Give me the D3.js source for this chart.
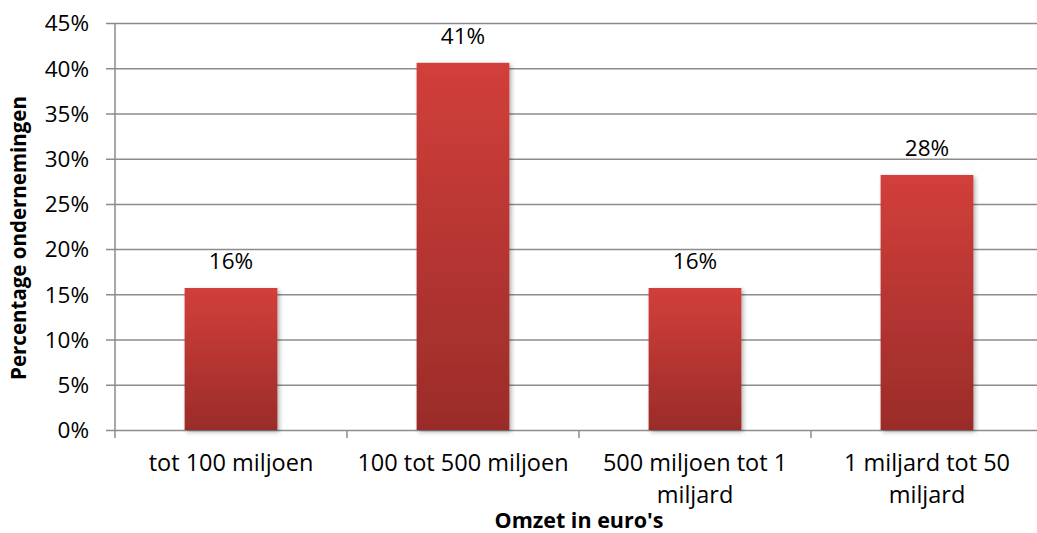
<!DOCTYPE html>
<html>
<head>
<meta charset="utf-8">
<script src="https://cdn.jsdelivr.net/npm/d3@7"></script>
<style>
  body { margin: 0; background: #fff; }
  text { font-family: "Open Sans", sans-serif; fill: #000; }
</style>
</head>
<body>
<div id="chart"></div>
<script>
const categories = ["tot 100 miljoen", "100 tot 500 miljoen", "500 miljoen tot 1 miljard", "1 miljard tot 50 miljard"];
const categoryLines = [["tot 100 miljoen"], ["100 tot 500 miljoen"], ["500 miljoen tot 1", "miljard"], ["1 miljard tot 50", "miljard"]];
const percentages = [15.7, 40.6, 15.7, 28.2];
const valueLabels = ["16%", "41%", "16%", "28%"];
const yTicks = [0, 5, 10, 15, 20, 25, 30, 35, 40, 45];

const width = 1037, height = 533;
const margin = { top: 23, right: -6, bottom: 103, left: 115 };
const innerW = width - margin.left - margin.right;
const innerH = height - margin.top - margin.bottom;

const svg = d3.select("#chart").append("svg")
    .attr("width", width)
    .attr("height", height);

const defs = svg.append("defs");
const grad = defs.append("linearGradient")
    .attr("id", "barGrad")
    .attr("x1", 0).attr("y1", 0).attr("x2", 0).attr("y2", 1);
grad.append("stop").attr("offset", "0%").attr("stop-color", "#d23f3b");
grad.append("stop").attr("offset", "100%").attr("stop-color", "#9a2c29");

const shadow = defs.append("filter").attr("id", "shadow")
    .attr("x", "-10%").attr("y", "-10%").attr("width", "130%").attr("height", "130%");
shadow.append("feDropShadow")
    .attr("dx", 2).attr("dy", 2).attr("stdDeviation", 2)
    .attr("flood-color", "#000").attr("flood-opacity", 0.3);

const g = svg.append("g").attr("transform", `translate(${margin.left},${margin.top})`);

const x = d3.scaleBand().domain(categories).range([0, innerW]).paddingInner(0.6).paddingOuter(0.3);
const xOuter = d3.scaleBand().domain(categories).range([0, innerW]);
const y = d3.scaleLinear().domain([0, 45]).range([innerH, 0]);

// gridlines + y axis
const yAxis = g.append("g")
    .call(d3.axisLeft(y).tickValues(yTicks).tickFormat(d => d + "%").tickSize(-innerW - 9).tickSizeOuter(0));
yAxis.select(".domain").remove();
yAxis.selectAll(".tick line")
    .attr("x1", -9)
    .attr("x2", innerW)
    .attr("stroke", "#8c8c8c")
    .attr("stroke-width", 1.5);
yAxis.selectAll(".tick text")
    .attr("x", -26)
    .attr("dy", "0.35em")
    .style("font-size", "22.5px");

g.append("line")
    .attr("x1", 0).attr("x2", 0)
    .attr("y1", 0).attr("y2", innerH)
    .attr("stroke", "#8c8c8c").attr("stroke-width", 1.5);

// x axis ticks at band boundaries
const boundaries = categories.map(c => xOuter(c)).concat([innerW]);
g.append("g").selectAll("line")
    .data(boundaries)
    .join("line")
    .attr("x1", d => d).attr("x2", d => d)
    .attr("y1", innerH).attr("y2", innerH + 8)
    .attr("stroke", "#8c8c8c").attr("stroke-width", 1.5);

// bars
g.append("g").selectAll("rect")
    .data(categories)
    .join("rect")
    .attr("x", d => x(d))
    .attr("y", (d, i) => y(percentages[i]))
    .attr("width", x.bandwidth())
    .attr("height", (d, i) => innerH - y(percentages[i]))
    .attr("fill", "url(#barGrad)")
    .attr("filter", "url(#shadow)");

// value labels
g.append("g").selectAll("text")
    .data(categories)
    .join("text")
    .attr("x", d => x(d) + x.bandwidth() / 2)
    .attr("y", (d, i) => y(percentages[i]) - 19)
    .attr("text-anchor", "middle")
    .style("font-size", "22.5px")
    .text((d, i) => valueLabels[i]);

// category labels
const catG = g.append("g").selectAll("text")
    .data(categories)
    .join("text")
    .attr("x", d => xOuter(d) + xOuter.bandwidth() / 2)
    .attr("y", innerH + 41)
    .attr("text-anchor", "middle")
    .style("font-size", "23.5px");
catG.selectAll("tspan")
    .data((d, i) => categoryLines[i])
    .join("tspan")
    .attr("x", function () { return this.parentNode.getAttribute("x"); })
    .attr("dy", (d, i) => i === 0 ? 0 : 32)
    .text(d => d);

// axis titles
svg.append("text")
    .attr("x", margin.left + innerW / 2)
    .attr("y", 528)
    .attr("text-anchor", "middle")
    .style("font-size", "21.5px")
    .style("font-weight", "bold")
    .text("Omzet in euro's");

svg.append("text")
    .attr("transform", "translate(26,238) rotate(-90)")
    .attr("text-anchor", "middle")
    .style("font-size", "20.5px")
    .style("font-weight", "bold")
    .text("Percentage ondernemingen");
</script>
</body>
</html>
